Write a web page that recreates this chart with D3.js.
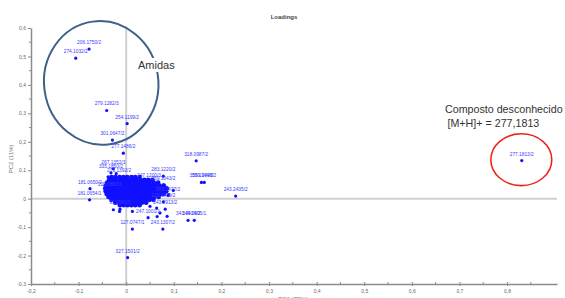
<!DOCTYPE html>
<html>
<head>
<meta charset="utf-8">
<script src="https://cdn.jsdelivr.net/npm/d3@7"></script>
<style>
  body { margin: 0; background: #fff; }
  svg { display: block; font-family: "Liberation Sans", Arial, sans-serif; }
</style>
</head>
<body>
<svg id="chart" width="565" height="298"></svg>
<script>
// ticks
const xTicks = [-0.2, -0.1, 0, 0.1, 0.2, 0.3, 0.4, 0.5, 0.6, 0.7, 0.8]
const xTickLabels = ["-0,2", "-0,1", "0", "0,1", "0,2", "0,3", "0,4", "0,5", "0,6", "0,7", "0,8"]
const xMinor = [-0.15, -0.05, 0.05, 0.15, 0.25, 0.35, 0.45, 0.55, 0.65, 0.75, 0.85]
const yTicks = [-0.3, -0.2, -0.1, 0, 0.1, 0.2, 0.3, 0.4, 0.5, 0.6]
const yTickLabels = ["-0,3", "-0,2", "-0,1", "0", "0,1", "0,2", "0,3", "0,4", "0,5", "0,6"]
const yMinor = [-0.25, -0.15, -0.05, 0.05, 0.15, 0.25, 0.35, 0.45, 0.55]

// labelled loadings
const names = ["206.1750/2", "274.1032/2", "279.1282/3", "254.1199/2", "301.0647/2", "277.1486/2",
  "318.0987/2", "359.1949/2", "359.1948/2", "243.2435/2", "343.0414/2", "349.0505/1",
  "327.1501/2", "127.0747/1", "243.1307/2", "181.0650/2", "181.0654/1", "283.1220/2",
  "267.1352/3", "335.1850/2", "271.1392/2", "247.1200/3", "259.1043/2", "265.1477/2",
  "229.1409/2", "91.0541/1", "247.1001/1", "243.0913/2", "229.0863/1", "277.1813/2"]
const pc1 = [-0.078, -0.106, -0.041, 0.002, -0.029, -0.006,
  0.147, 0.158, 0.164, 0.230, 0.130, 0.143,
  0.003, 0.013, 0.077, -0.076, -0.077, 0.078,
  -0.027, -0.032, -0.015, 0.048, 0.078, 0.088,
  0.078, -0.013, 0.046, 0.082, -0.034, 0.831]
const pc2 = [0.526, 0.494, 0.310, 0.264, 0.206, 0.160,
  0.133, 0.057, 0.057, 0.009, -0.076, -0.076,
  -0.207, -0.107, -0.107, 0.035, -0.004, 0.079,
  0.105, 0.091, 0.077, 0.060, 0.049, 0.011,
  -0.011, -0.037, -0.067, -0.037, 0.028, 0.134]

// unlabelled loadings around the cluster
const extraPc1 = [-0.027, -0.014, 0.013, 0.050, 0.064, 0.071, 0.086, 0.065, 0.089, 0.099, -0.038, -0.021]
const extraPc2 = [-0.039, -0.045, -0.045, -0.027, -0.033, -0.050, -0.062, -0.063, 0.014, 0.029, 0.077, 0.088]

// dense cluster near the origin, one row per PC2 level
const blobRowY = [0.076, 0.066, 0.056, 0.046, 0.036, 0.026, 0.016, 0.006, -0.004, -0.014, -0.023]
const blobRowX = [
  [-0.031, -0.023, -0.014, -0.006, 0.002, 0.011, 0.019, 0.028],
  [-0.036, -0.028, -0.020, -0.011, -0.003, 0.005, 0.013, 0.021, 0.030, 0.038, 0.046, 0.055],
  [-0.040, -0.032, -0.024, -0.016, -0.008, 0.000, 0.008, 0.017, 0.025, 0.033, 0.041, 0.049, 0.058, 0.067],
  [-0.043, -0.035, -0.027, -0.019, -0.011, -0.003, 0.005, 0.013, 0.021, 0.029, 0.037, 0.045, 0.053, 0.061, 0.070, 0.079],
  [-0.044, -0.036, -0.028, -0.020, -0.012, -0.004, 0.004, 0.012, 0.020, 0.028, 0.036, 0.044, 0.052, 0.060, 0.068, 0.076, 0.085],
  [-0.043, -0.035, -0.027, -0.019, -0.011, -0.003, 0.005, 0.013, 0.021, 0.029, 0.037, 0.045, 0.053, 0.061, 0.069, 0.077, 0.084],
  [-0.041, -0.033, -0.025, -0.017, -0.009, -0.001, 0.007, 0.015, 0.023, 0.031, 0.039, 0.047, 0.055, 0.063, 0.071, 0.079],
  [-0.037, -0.029, -0.021, -0.013, -0.005, 0.003, 0.011, 0.019, 0.027, 0.035, 0.043, 0.051, 0.059, 0.068],
  [-0.031, -0.023, -0.015, -0.007, 0.001, 0.009, 0.017, 0.025, 0.033, 0.041, 0.049, 0.057],
  [-0.023, -0.015, -0.007, 0.001, 0.009, 0.017, 0.025, 0.033, 0.042],
  [-0.013, -0.005, 0.003, 0.011, 0.019, 0.028]
]

let svg = d3.select("#chart")
let x = d3.scaleLinear().domain([-0.2, 0.905]).range([31, 557])
let y = d3.scaleLinear().domain([-0.3, 0.6]).range([284, 28])
let blue = "#1010ff"
let axisCol = "#8c8c8c"

// title
svg.append('text').attr('x', 284).attr('y', 19).attr('text-anchor', 'middle')
  .style('font-size', '6px').style('font-weight', 'bold').style('fill', '#444').text('Loadings')

// zero lines
svg.append('line').attr('x1', x(0)).attr('x2', x(0)).attr('y1', y(0.6)).attr('y2', y(-0.3))
  .style('stroke', '#cfcfcf').style('stroke-width', 2)
svg.append('line').attr('x1', x(-0.2)).attr('x2', x(0.905)).attr('y1', y(0)).attr('y2', y(0))
  .style('stroke', '#cfcfcf').style('stroke-width', 2)

// x axis
let xa = svg.append('g').attr('transform', `translate(0,${y(-0.3)})`)
  .call(d3.axisBottom(x).tickValues(xTicks).tickFormat((d, i) => xTickLabels[i]).tickSize(2).tickSizeOuter(0))
xa.select('.domain').style('stroke', axisCol).style('stroke-width', 1.5)
xa.selectAll('.tick line').style('stroke', axisCol).attr('y1', -2)
xa.selectAll('.tick text').attr('y', 5).style('font-size', '5px').style('fill', '#666').style('font-family', 'Liberation Sans')
xa.selectAll('.minor').data(xMinor).enter().append('line').attr('class', 'minor')
  .attr('x1', d => x(d)).attr('x2', d => x(d)).attr('y1', -2).attr('y2', 0).style('stroke', axisCol)

// y axis
let ya = svg.append('g').attr('transform', `translate(${x(-0.2)},0)`)
  .call(d3.axisLeft(y).tickValues(yTicks).tickFormat((d, i) => yTickLabels[i]).tickSize(3).tickSizeOuter(0))
ya.select('.domain').style('stroke', axisCol).style('stroke-width', 1.5)
ya.selectAll('.tick line').style('stroke', axisCol)
ya.selectAll('.tick text').attr('x', -5).style('font-size', '5px').style('fill', '#666').style('font-family', 'Liberation Sans')
ya.selectAll('.minor').data(yMinor).enter().append('line').attr('class', 'minor')
  .attr('x1', -2).attr('x2', 0).attr('y1', d => y(d)).attr('y2', d => y(d)).style('stroke', axisCol)

// axis titles
svg.append('text').attr('x', 293).attr('y', 301).attr('text-anchor', 'middle')
  .style('font-size', '6px').style('fill', '#777').text('PC1 (73%)')
svg.append('text').attr('transform', `translate(13,${y(0.14)}) rotate(-90)`).attr('text-anchor', 'middle')
  .style('font-size', '6px').style('fill', '#777').text('PC2 (11%)')

// blob
let plot = svg.append('g')
blobRowX.forEach((row, r) => {
  plot.selectAll(null).data(row).enter().append('circle')
    .attr('cx', d => x(d)).attr('cy', y(blobRowY[r])).attr('r', 2.4).style('fill', blue)
})
plot.selectAll(null).data(extraPc1).enter().append('circle')
  .attr('cx', d => x(d)).attr('cy', (d, i) => y(extraPc2[i])).attr('r', 1.6).style('fill', blue)

// labelled points
plot.selectAll(null).data(names).enter().append('circle')
  .attr('cx', (d, i) => x(pc1[i])).attr('cy', (d, i) => y(pc2[i])).attr('r', 1.6).style('fill', blue)
plot.selectAll(null).data(names).enter().append('text')
  .attr('x', (d, i) => x(pc1[i])).attr('y', (d, i) => y(pc2[i]) - 5)
  .attr('text-anchor', 'middle').style('font-size', '4.8px').style('fill', '#3a3aff').text(d => d)

// annotations
svg.append('ellipse').attr('cx', x(-0.0525)).attr('cy', y(0.407))
  .attr('rx', x(0.12) - x(0)).attr('ry', y(0) - y(0.2175))
  .attr('transform', `rotate(-8,${x(-0.0525)},${y(0.407)})`)
  .style('fill', 'none').style('stroke', '#3f6189').style('stroke-width', 2)
svg.append('rect').attr('x', 136).attr('y', 58).attr('width', 42).attr('height', 14).style('fill', '#fff')
svg.append('text').attr('x', 138).attr('y', 68.5).style('font-size', '11px').style('fill', '#333').text('Amidas')

svg.append('ellipse').attr('cx', x(0.83)).attr('cy', y(0.137))
  .attr('rx', x(0.064) - x(0)).attr('ry', y(0) - y(0.091))
  .style('fill', 'none').style('stroke', '#e8281f').style('stroke-width', 1.6)
svg.append('text').attr('x', 445).attr('y', 112.5).style('font-size', '10.7px').style('fill', '#333').text('Composto desconhecido')
svg.append('text').attr('x', 447.5).attr('y', 126.5).style('font-size', '10.7px').style('fill', '#333').text('[M+H]+ = 277,1813')
</script>
</body>
</html>
